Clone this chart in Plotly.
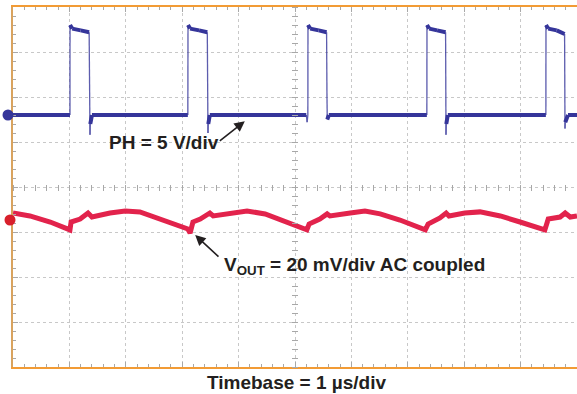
import plotly.graph_objects as go

# ---------------- data (time in µs) ----------------
# PH switch-node waveform (volts)
ph_t = [0.00, 1.010, 1.011, 1.05, 1.20, 1.350, 1.365, 1.370, 1.40,
        3.100, 3.103, 3.14, 3.30, 3.445, 3.457, 3.462, 3.49,
        5.200, 5.215, 5.228, 5.230, 5.27, 5.42, 5.560, 5.567, 5.572, 5.60,
        7.338, 7.340, 7.38, 7.52, 7.670, 7.677, 7.682, 7.71,
        9.448, 9.450, 9.49, 9.64, 9.780, 9.787, 9.792, 9.84, 10.0]
ph_v = [0.0, 0.0, 10.0, 9.6, 9.4, 9.2, -2.2, -1.0, 0.0,
        0.0, 10.0, 9.6, 9.4, 9.2, -2.0, -1.0, 0.0,
        0.0, -0.8, 0.0, 10.0, 9.6, 9.4, 9.2, 2.0, -0.5, 0.0,
        0.0, 10.0, 9.6, 9.4, 9.2, -2.2, -1.0, 0.0,
        0.0, 10.0, 9.6, 9.4, 9.0, -1.5, -0.8, 0.0, 0.0]

# Output ripple (mV, AC coupled)
vout_t = [0.00, 0.30, 0.66, 1.01, 1.03, 1.19, 1.33, 1.40, 1.72, 1.99, 2.25,
          2.61, 3.10, 3.14, 3.19, 3.32, 3.49, 3.55, 3.85, 4.15, 4.47, 4.82,
          5.21, 5.25, 5.44, 5.57, 5.62, 5.98, 6.24, 6.51, 6.86, 7.31, 7.36,
          7.57, 7.68, 7.73, 8.01, 8.28, 8.64, 8.99, 9.43, 9.49, 9.70, 9.79,
          9.88, 10.0]
vout_mv = [3.1, 1.8, -0.9, -4.4, -0.9, 0.4, 3.1, 1.3, 3.1, 4.0, 3.6,
           0.4, -4.0, -5.8, -0.9, 0.4, 3.1, 1.8, 3.1, 4.0, 2.7, -0.4,
           -4.4, -1.8, 0.4, 2.7, 1.8, 3.1, 4.0, 2.7, 0.0, -4.4, -1.8,
           0.9, 3.1, 1.8, 3.1, 3.6, 1.8, -0.9, -4.4, 0.4, 1.3, 3.1,
           1.3, 1.8]

# scope settings
ph_scale = 5.0          # V/div
vout_scale = 20.0       # mV/div
ph_ground_div = 1.6     # ground marker position (divisions from centre)
vout_ground_div = -0.733
n_xdiv, n_ydiv = 10, 8
time_per_div = 1.0      # µs/div

label_ph = "PH = 5 V/div"
label_vout = "V<sub>OUT</sub> = 20 mV/div AC coupled"
label_time = "Timebase = 1 µs/div"

# ---------------- figure ----------------
BLUE = "#35359a"
RED = "#e2234c"
TXT = "#231f20"
GRID = "#c8c8c8"
TICK = "#a8a8a8"

half = n_ydiv / 2
ph_range = [(-half - ph_ground_div) * ph_scale, (half - ph_ground_div) * ph_scale]
vout_range = [(-half - vout_ground_div) * vout_scale, (half - vout_ground_div) * vout_scale]
x_range = [0, n_xdiv * time_per_div]

# split PH into flat (thick) and fast-edge (thin, faint) pieces
lvl_x, lvl_y, edge_x, edge_y = [], [], [], []
for i in range(len(ph_t) - 1):
    seg_x = [ph_t[i], ph_t[i + 1]]
    seg_y = [ph_v[i], ph_v[i + 1]]
    if ph_t[i + 1] - ph_t[i] < 0.02:
        edge_x += seg_x + [None]
        edge_y += seg_y + [None]
    else:
        lvl_x += seg_x + [None]
        lvl_y += seg_y + [None]

fig = go.Figure()
fig.add_trace(go.Scatter(x=vout_t, y=vout_mv, mode="lines", yaxis="y2",
                         line=dict(color=RED, width=5), hoverinfo="skip"))
fig.add_trace(go.Scatter(x=edge_x, y=edge_y, mode="lines", yaxis="y", opacity=0.8,
                         line=dict(color=BLUE, width=1.3), hoverinfo="skip"))
fig.add_trace(go.Scatter(x=lvl_x, y=lvl_y, mode="lines", yaxis="y",
                         line=dict(color=BLUE, width=4), hoverinfo="skip"))
# carriers for centre-line tick axes
fig.add_trace(go.Scatter(x=[], y=[], xaxis="x", yaxis="y3", showlegend=False))
fig.add_trace(go.Scatter(x=[], y=[], xaxis="x2", yaxis="y", showlegend=False))

W, H = 577, 394
ml, mr, mt, mb = 13, 0, 7, 27
pw, ph = W - ml - mr, H - mt - mb

fig.update_layout(
    width=W, height=H,
    margin=dict(l=ml, r=mr, t=mt, b=mb),
    paper_bgcolor="white", plot_bgcolor="white",
    showlegend=False,
    xaxis=dict(range=x_range, dtick=time_per_div, tick0=0, showgrid=True,
               gridcolor=GRID, griddash="dot", gridwidth=1, zeroline=False,
               showticklabels=False, showline=True, linecolor="#f29b35", linewidth=2,
               mirror="ticks", ticks="inside", ticklen=5, tickcolor=TICK,
               minor=dict(dtick=time_per_div / 5, tick0=0, ticks="inside",
                          ticklen=3, tickcolor=TICK)),
    yaxis=dict(range=ph_range, dtick=ph_scale, tick0=ph_range[0], showgrid=True,
               gridcolor=GRID, griddash="dot", gridwidth=1, zeroline=False,
               showticklabels=False, showline=True, linecolor="#d9a35e", linewidth=2,
               ticks="inside", ticklen=5, tickcolor=TICK,
               minor=dict(dtick=ph_scale / 5, tick0=ph_range[0], ticks="inside",
                          ticklen=3, tickcolor=TICK)),
    yaxis2=dict(range=vout_range, overlaying="y", showgrid=False, zeroline=False,
                showticklabels=False, showline=False, ticks=""),
    yaxis3=dict(range=ph_range, overlaying="y", anchor="free",
                position=0.5 + 3 / pw, side="left", showgrid=False, zeroline=False,
                showticklabels=False, showline=False, ticks="outside", ticklen=6,
                tickcolor=TICK, dtick=ph_scale / 5, tick0=ph_range[0]),
    xaxis2=dict(range=x_range, overlaying="x", anchor="free",
                position=0.5 + 3 / ph, side="bottom", showgrid=False, zeroline=False,
                showticklabels=False, showline=False, ticks="outside", ticklen=6,
                tickcolor=TICK, dtick=time_per_div / 5, tick0=0),
    font=dict(family="Liberation Sans, Arial, sans-serif", color=TXT),
)

# channel ground-reference markers (0 V on PH axis, 0 mV on VOUT axis)
for yref, col, xpix in (("y", BLUE, -5), ("y2", "#d8202c", -3)):
    fig.add_shape(type="circle", xref="paper", yref=yref,
                  xsizemode="pixel", ysizemode="pixel",
                  xanchor=0, yanchor=0,
                  x0=xpix - 5.5, x1=xpix + 5.5, y0=-5.5, y1=5.5,
                  fillcolor=col, line=dict(color=col, width=0), layer="above")

font_lbl = dict(family="Liberation Sans, Arial, sans-serif", size=19, color=TXT)

# PH label + arrow
fig.add_annotation(x=1.667, y=-3.1, xref="x", yref="y", text="<b>" + label_ph + "</b>",
                   showarrow=False, xanchor="left", yanchor="middle", font=font_lbl)
fig.add_annotation(x=4.11, y=-0.7, xref="x", yref="y", ax=3.64, ay=-3.0,
                   axref="x", ayref="y", text="", showarrow=True,
                   arrowhead=2, arrowsize=1.3, arrowwidth=1.6, arrowcolor=TXT)
# VOUT label + arrow
fig.add_annotation(x=3.706, y=-20.4, xref="x", yref="y2", text="<b>" + label_vout + "</b>",
                   showarrow=False, xanchor="left", yanchor="middle", font=font_lbl)
fig.add_annotation(x=3.23, y=-6.7, xref="x", yref="y2", ax=3.67, ay=-16.9,
                   axref="x", ayref="y2", text="", showarrow=True,
                   arrowhead=2, arrowsize=1.3, arrowwidth=1.6, arrowcolor=TXT)
# timebase label
fig.add_annotation(x=0.502, y=-15 / ph, xref="paper", yref="paper",
                   text="<b>" + label_time + "</b>", showarrow=False,
                   xanchor="center", yanchor="middle", font=font_lbl)

fig.write_html("out.html", config={"displayModeBar": False},
               post_script="document.body.style.margin='0';")
